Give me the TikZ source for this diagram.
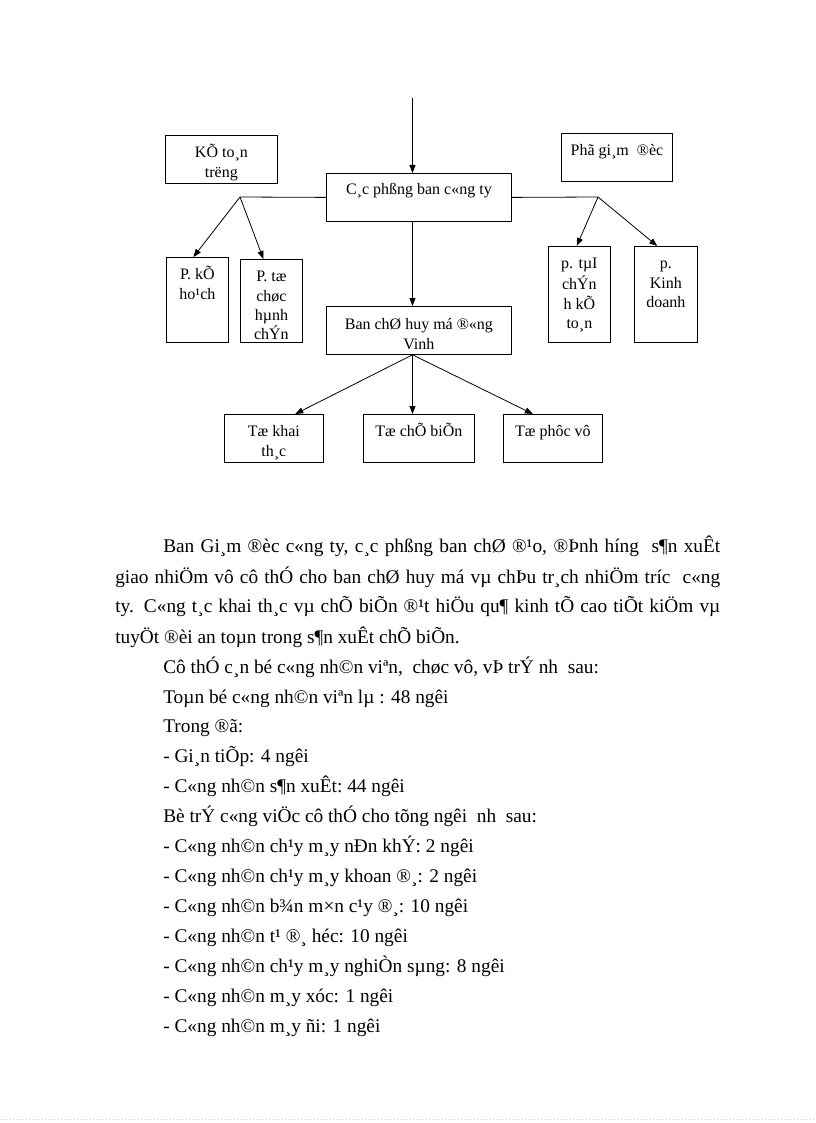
\documentclass[tikz,border=0pt]{standalone}
\usepackage{fontspec}
\setmainfont{Liberation Serif}
\usetikzlibrary{arrows.meta}
\newcommand{\boxfont}{\fontsize{12pt}{14.5pt}\selectfont}
\newcommand{\bodyfont}{\fontsize{14.5pt}{17pt}\selectfont}

\begin{document}
\begin{tikzpicture}[x=0.75pt,y=-0.75pt,
  unit/.style={draw,line width=0.6pt,anchor=north west,inner sep=0pt,minimum height=36pt},
  lbl/.style={anchor=north,align=center,font=\boxfont,inner sep=0pt,yshift=-6.75pt},
  arr/.style={line width=0.6pt,-{Triangle[length=6pt,width=4.5pt]}},
  txt/.style={anchor=base west,inner sep=0pt,font=\bodyfont}]
\useasboundingbox (0,0) rectangle (816,1123);

% diagram
\node[unit,minimum width=84pt,label={[lbl]north:\strut KÕ to¸n\\trëng}] (keto) at (165,135) {};
\node[unit,minimum width=83.25pt,label={[lbl]north:\strut Phã gi¸m\ \ ®èc}] (phogd) at (561,133) {};
\node[unit,minimum width=138.75pt,label={[lbl,yshift=0.75pt]north:\strut C¸c phßng ban c«ng ty}] (cac) at (326,173) {};
\node[unit,minimum width=46.5pt,minimum height=63.75pt,label={[lbl]north:\strut P. kÕ\\ho¹ch}] (khoach) at (166,257) {};
\node[unit,minimum width=46.5pt,minimum height=62.25pt,label={[lbl]north:\strut P. tæ\\chøc\\hµnh\\chÝn}] (tochuc) at (240,259) {};
\node[unit,minimum width=46.5pt,minimum height=72pt,label={[lbl]north:\strut p. tµI\\chÝn\\h kÕ\\to¸n}] (taichinh) at (548,246) {};
\node[unit,minimum width=47.25pt,minimum height=72pt,label={[lbl]north:\strut p.\\Kinh\\doanh}] (kinh) at (634,246) {};
\node[unit,minimum width=138.75pt,label={[lbl,yshift=-0.75pt]north:\strut Ban chØ huy má ®«ng\\Vinh}] (ban) at (326,306) {};
\node[unit,minimum width=74.25pt,label={[lbl]north:\strut Tæ khai\\th¸c}] (khai) at (224,414) {};
\node[unit,minimum width=83.25pt,label={[lbl]north:\strut Tæ chÕ biÕn}] (chebien) at (363,414) {};
\node[unit,minimum width=74.25pt,label={[lbl]north:\strut Tæ phôc vô}] (phucvu) at (503,414) {};

\coordinate (feed) at (412.5,98);
\coordinate (jl) at (240,197);
\coordinate (jr) at (598,197);

\draw[arr] (feed) -- (feed |- cac.north);
\draw[line width=0.6pt] (cac.west) -- (jl);
\draw[line width=0.6pt] (cac.east) -- (jr);
\draw[arr] (jl) -- ([xshift=-3pt]khoach.north);
\draw[arr] (jl) -- ([xshift=-6pt]tochuc.north);
\draw[arr] (jr) -- ([xshift=-2pt]taichinh.north);
\draw[arr] (jr) -- ([xshift=-6.5pt]kinh.north);
\draw[arr] (feed |- cac.south) -- (feed |- ban.north);
\draw[arr] (feed |- ban.south) -- ([xshift=16pt]khai.north);
\draw[arr] (feed |- ban.south) -- (feed |- chebien.north);
\draw[arr] (feed |- ban.south) -- ([xshift=-15pt]phucvu.north);

% text
\node[txt] (p1) at (163,552) {\makebox[417.75pt][s]{Ban Gi¸m ®èc c«ng ty, c¸c phßng ban chØ ®¹o, ®Þnh híng\ \ s¶n xuÊt}};
\node[txt] (p2) at (115,583) {\makebox[453.75pt][s]{giao nhiÖm vô cô thÓ cho ban chØ huy má vµ chÞu tr¸ch nhiÖm tríc\ \ c«ng}};
\node[txt] (p3) at (115,612) {\makebox[453.75pt][s]{ty. C«ng t¸c khai th¸c vµ chÕ biÕn ®¹t hiÖu qu¶ kinh tÕ cao tiÕt kiÖm vµ}};
\node[txt] (p4) at (115,643) {tuyÖt ®èi an toµn trong s¶n xuÊt chÕ biÕn.};
\node[txt] (cuthe) at (163,673) {Cô thÓ c¸n bé c«ng nh©n viªn,\ \ chøc vô, vÞ trÝ nh\ \ sau:};
\node[txt] (tong) at (163,703) {Toµn bé c«ng nh©n viªn lµ : 48 ngêi};
\node[txt] (trong) at (163,732) {Trong ®ã:};
\node[txt] (giantiep) at (163,762) {- Gi¸n tiÕp: 4 ngêi};
\node[txt] (sanxuat) at (163,792) {- C«ng nh©n s¶n xuÊt:\ 44 ngêi};
\node[txt] (botri) at (163,822) {Bè trÝ c«ng viÖc cô thÓ cho tõng ngêi\ \ nh\ \ sau:};
\node[txt] (l1) at (163,852) {- C«ng nh©n\ ch¹y m¸y nÐn khÝ: 2 ngêi};
\node[txt] (l2) at (163,882) {- C«ng nh©n\ ch¹y m¸y khoan ®¸: 2 ngêi};
\node[txt] (l3) at (163,912) {- C«ng nh©n\ b¾n m×n c¹y ®¸: 10 ngêi};
\node[txt] (l4) at (163,942) {- C«ng nh©n\ t¹\ ®¸ héc: 10 ngêi};
\node[txt] (l5) at (163,972) {- C«ng nh©n\ ch¹y m¸y nghiÒn\ sµng: 8 ngêi};
\node[txt] (l6) at (163,1002) {- C«ng nh©n\ m¸y xóc: 1 ngêi};
\node[txt] (l7) at (163,1032) {- C«ng nh©n\ m¸y ñi: 1 ngêi};

\draw[gray!40,dotted] (0,1119) -- (816,1119);
\end{tikzpicture}
\end{document}
